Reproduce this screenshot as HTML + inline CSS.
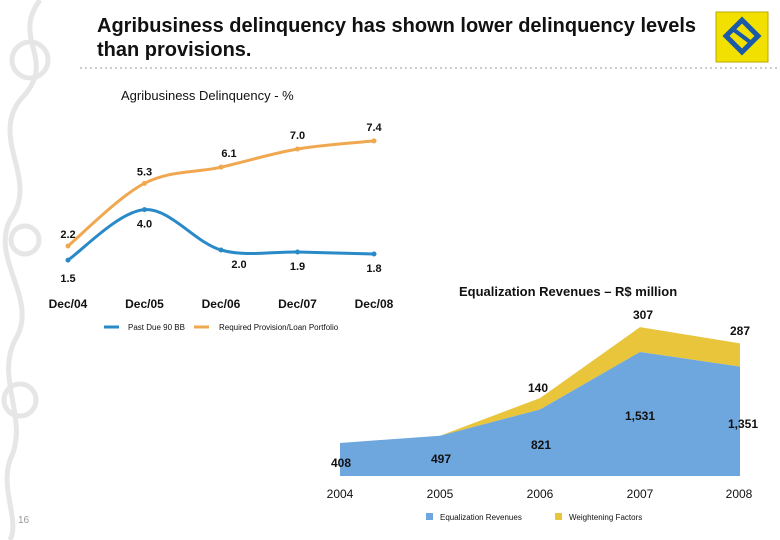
<!DOCTYPE html>
<html><head><meta charset="utf-8"><style>
body{margin:0;width:780px;height:540px;background:#fff;overflow:hidden;font-family:"Liberation Sans",sans-serif;position:relative}
.t{position:absolute;font-family:"Liberation Sans Narrow","Liberation Sans",sans-serif;font-weight:bold;color:#111}
</style></head><body>
<svg width="780" height="540" style="position:absolute;left:0;top:0">
<g fill="none" stroke="#e6e6e6" stroke-width="5">
<path d="M40 0 C10 40 60 60 20 100 C-10 140 40 180 10 220 C-10 260 40 300 15 340 C-5 380 30 420 10 460 C0 490 20 520 10 540"/>
<circle cx="30" cy="60" r="18"/><circle cx="25" cy="240" r="14"/><circle cx="20" cy="400" r="16"/>
</g>
<line x1="80" y1="68" x2="780" y2="68" stroke="#bbb" stroke-width="1.5" stroke-dasharray="2,3"/>
<g>
<rect x="716" y="12" width="52" height="50" fill="#f2e000" stroke="#b8a800"/>
<path d="M742 20 L758 36 L742 52 L726 36 Z" fill="none" stroke="#1a5aa8" stroke-width="5"/>
<path d="M734 30 L750 42" stroke="#1a5aa8" stroke-width="4"/>
</g>
<g id="line-chart"></g>
<g id="area-chart"></g>
</svg>
<div class="t" style="left:97px;top:14px;font-size:20px;line-height:24px">Agribusiness delinquency has shown lower delinquency levels<br>than provisions.</div>
<div class="t" style="left:121px;top:88px;font-size:13px;font-weight:normal">Agribusiness Delinquency - %</div>
<div class="t" style="left:459px;top:284px;font-size:13px">Equalization Revenues – R$ million</div>
<div style="position:absolute;left:18px;top:515px;font-size:10px;color:#999">16</div>
<script>
const lineCats=["Dec/04","Dec/05","Dec/06","Dec/07","Dec/08"];
const pastDue=[1.5,4.0,2.0,1.9,1.8];
const provision=[2.2,5.3,6.1,7.0,7.4];
const areaCats=["2004","2005","2006","2007","2008"];
const eqRev=[408,497,821,1531,1351];
const weight=[0,0,140,307,287];
const NS="http://www.w3.org/2000/svg";
function mk(p,t,a){const e=document.createElementNS(NS,t);for(const k in a)e.setAttribute(k,a[k]);p.appendChild(e);return e;}
function txt(p,x,y,s,size,w,anchor){const e=mk(p,"text",{x:x,y:y,"font-size":size,"font-weight":w||"bold","text-anchor":anchor||"middle","font-family":"Liberation Sans, sans-serif",fill:"#111"});e.textContent=s;return e;}
function smooth(pts){let d="M"+pts[0][0]+" "+pts[0][1];for(let i=0;i<pts.length-1;i++){const p0=pts[i-1]||pts[i],p1=pts[i],p2=pts[i+1],p3=pts[i+2]||p2;const c1=[p1[0]+(p2[0]-p0[0])/6,p1[1]+(p2[1]-p0[1])/6],c2=[p2[0]-(p3[0]-p1[0])/6,p2[1]-(p3[1]-p1[1])/6];d+=` C${c1[0]} ${c1[1]} ${c2[0]} ${c2[1]} ${p2[0]} ${p2[1]}`;}return d;}
// line chart
const L=document.getElementById("line-chart");
const lx=i=>68+i*76.5, ly=v=>290.4-20.2*v;
lineCats.forEach((c,i)=>{const t=txt(L,lx(i),308,c,12);

});
[[pastDue,"#2a8ac8","past-due-line"],[provision,"#f0a850","provision-line"]].forEach(([s,col,nm])=>{
const pts=s.map((v,i)=>[lx(i),ly(v)]);
const p=mk(L,"path",{d:smooth(pts),fill:"none",stroke:col,"stroke-width":3});


pts.forEach(q=>{const c=mk(L,"circle",{cx:q[0],cy:q[1],r:2.5,fill:col});

});
});
const blOff=[[0,22],[0,-15],[18,18],[0,18],[0,18]],orOff=[[0,-8],[0,-8],[8,-10],[0,-10],[0,-10]];
pastDue.forEach((v,i)=>{const t=txt(L,lx(i)+(i==0?0:blOff[i][0]),ly(v)+(i==1?18:blOff[i][1]),v.toFixed(1),11);

});
provision.forEach((v,i)=>{const t=txt(L,lx(i)+orOff[i][0],ly(v)+orOff[i][1],v.toFixed(1),11);

});
const lg1=mk(L,"line",{x1:104,y1:327,x2:119,y2:327,stroke:"#2a8ac8","stroke-width":3});


txt(L,128,330,"Past Due 90 BB",8,"normal","start");
const lg2=mk(L,"line",{x1:194,y1:327,x2:209,y2:327,stroke:"#f0a850","stroke-width":3});


txt(L,219,330,"Required Provision/Loan Portfolio",8,"normal","start");
// area chart
const A=document.getElementById("area-chart");
const ax=i=>340+i*100, ay=v=>476-v*0.081;
let top1=eqRev.map((v,i)=>ax(i)+","+ay(v)).join(" ");
let top2=eqRev.map((v,i)=>ax(i)+","+ay(v+weight[i])).join(" ");
const bot=ax(eqRev.length-1)+",476 "+ax(0)+",476";
const yl=mk(A,"polygon",{points:top2+" "+eqRev.map((v,i)=>ax(i)+","+ay(v)).reverse().join(" "),fill:"#e8c53a"});


const bl=mk(A,"polygon",{points:top1+" "+bot,fill:"#6ea6de"});


areaCats.forEach((c,i)=>{const t=txt(A,ax(i)+(i==4?-1:0),498,c,12,"normal");

});
eqRev.forEach((v,i)=>{const t=txt(A,ax(i)+[1,1,1,0,3][i],[467,463,449,420,428][i],v.toLocaleString("en-US"),12);

});
weight.forEach((v,i)=>{if(!v)return;const t=txt(A,ax(i)+[0,0,-2,3,0][i],ay(eqRev[i]+v)-[0,0,6,8,-8][i],String(v),12);
if(i==4)t.setAttribute("y",335);

});
const s1=mk(A,"rect",{x:426,y:513,width:7,height:7,fill:"#6ea6de"});


txt(A,440,520,"Equalization Revenues",8,"normal","start");
const s2=mk(A,"rect",{x:555,y:513,width:7,height:7,fill:"#e8c53a"});


txt(A,569,520,"Weightening Factors",8,"normal","start");
</script>
</body></html>
